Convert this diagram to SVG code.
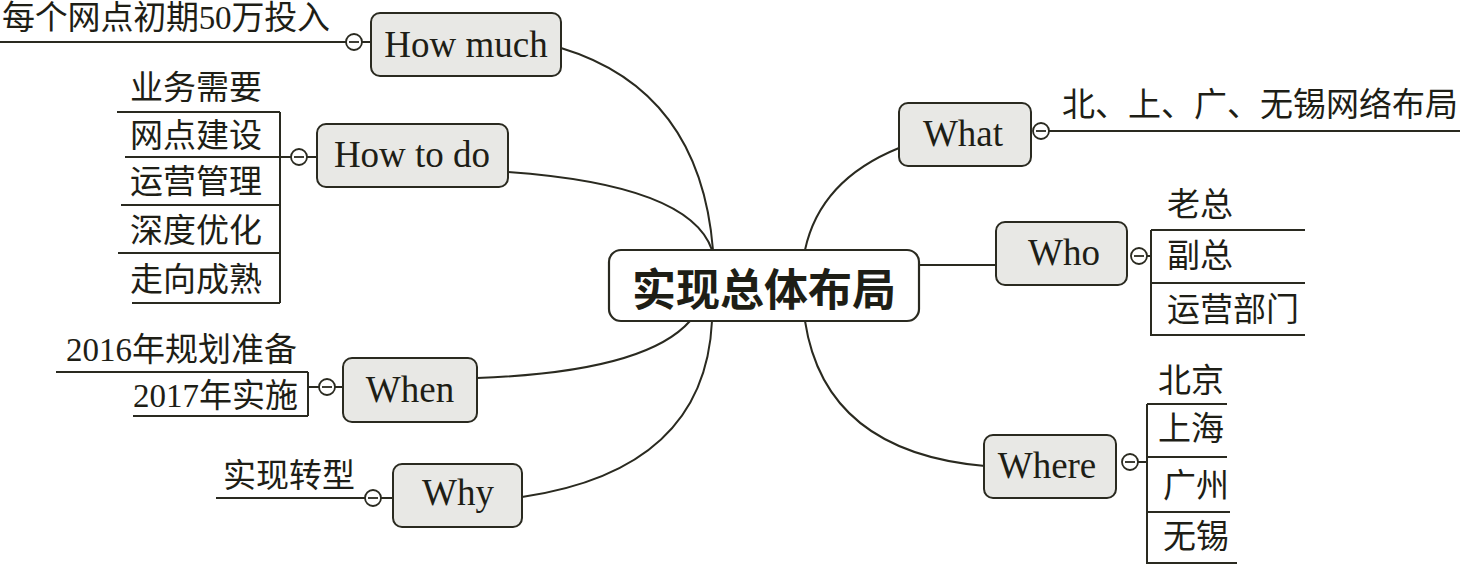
<svg xmlns="http://www.w3.org/2000/svg" width="1460" height="566" viewBox="0 0 1460 566">
<style>
.bg{fill:#ffffff}
.ln{fill:none;stroke:#2a2a20;stroke-width:2}
.box{fill:#e8e8e5;stroke:#2a2a20;stroke-width:2}
.root{fill:#ffffff;stroke:#2a2a20;stroke-width:2.2}
.en{font-family:"Liberation Serif","Times New Roman",serif;font-size:37px;fill:#1e1e16;text-anchor:middle}
.zh{font-family:"Liberation Serif","Noto Sans CJK SC",serif;font-size:33px;fill:#1e1e16;dominant-baseline:central}
.rt{font-family:"Noto Sans CJK SC","Noto Sans",sans-serif;font-size:44px;font-weight:bold;fill:#1e1e16;text-anchor:middle;dominant-baseline:central}
.tog{fill:#ffffff;stroke:#2a2a20;stroke-width:1.8}
</style>
<defs>
<g id="toggle"><circle class="tog" cx="0" cy="0" r="8"/><line x1="-5" y1="0" x2="5" y2="0" stroke="#2a2a20" stroke-width="1.8"/></g>
</defs>
<rect class="bg" x="0" y="0" width="1460" height="566"/>
<g id="connectors">
<path class="ln" d="M561,48 Q700,90 713,250"/>
<path class="ln" d="M508,172 Q690,185 712,250"/>
<path class="ln" d="M477,378 Q645,372 690,321"/>
<path class="ln" d="M522,497 Q705,470 712,321"/>
<path class="ln" d="M899,148 Q820,180 805,250"/>
<path class="ln" d="M919,265 L996,265"/>
<path class="ln" d="M985,466 Q825,452 805,321"/>
</g>
<g id="root">
<rect class="root" x="609" y="250" width="310" height="71" rx="12"/>
<text class="rt" x="764" y="287">实现总体布局</text>
</g>
<g id="howmuch">
<rect class="box" x="371" y="13" width="190" height="63" rx="9"/>
<text class="en" x="466" y="57">How much</text>
<line class="ln" x1="0" y1="42" x2="346" y2="42"/>
<line class="ln" x1="362" y1="42" x2="371" y2="42"/>
<use href="#toggle" x="354" y="42"/>
<text class="zh" x="2" y="18" textLength="328" lengthAdjust="spacing">每个网点初期50万投入</text>
</g>
<g id="howtodo">
<rect class="box" x="317" y="124" width="191" height="63" rx="9"/>
<text class="en" x="412" y="167">How to do</text>
<line class="ln" x1="307" y1="157" x2="317" y2="157"/>
<use href="#toggle" x="299" y="157"/>
<line class="ln" x1="280" y1="112" x2="280" y2="303"/>
<line class="ln" x1="117" y1="112" x2="280" y2="112"/>
<line class="ln" x1="125" y1="157" x2="291" y2="157"/>
<line class="ln" x1="121" y1="205" x2="280" y2="205"/>
<line class="ln" x1="118" y1="253" x2="280" y2="253"/>
<line class="ln" x1="132" y1="303" x2="280" y2="303"/>
<text class="zh" x="130" y="88">业务需要</text>
<text class="zh" x="130" y="136">网点建设</text>
<text class="zh" x="130" y="182">运营管理</text>
<text class="zh" x="130" y="231">深度优化</text>
<text class="zh" x="130" y="280">走向成熟</text>
</g>
<g id="when">
<rect class="box" x="343" y="358" width="134" height="64" rx="9"/>
<text class="en" x="410" y="402">When</text>
<line class="ln" x1="335" y1="387" x2="343" y2="387"/>
<use href="#toggle" x="327" y="387"/>
<line class="ln" x1="308" y1="387" x2="319" y2="387"/>
<line class="ln" x1="308" y1="372" x2="308" y2="416"/>
<line class="ln" x1="56" y1="372" x2="308" y2="372"/>
<line class="ln" x1="133" y1="416" x2="308" y2="416"/>
<text class="zh" x="66" y="350">2016年规划准备</text>
<text class="zh" x="133" y="396">2017年实施</text>
</g>
<g id="why">
<rect class="box" x="393" y="464" width="129" height="63" rx="9"/>
<text class="en" x="458" y="505">Why</text>
<line class="ln" x1="216" y1="498" x2="365" y2="498"/>
<line class="ln" x1="381" y1="498" x2="393" y2="498"/>
<use href="#toggle" x="373" y="498"/>
<text class="zh" x="223" y="476">实现转型</text>
</g>
<g id="what">
<rect class="box" x="899" y="103" width="132" height="63" rx="9"/>
<text class="en" x="963" y="146">What</text>
<line class="ln" x1="1049" y1="131" x2="1460" y2="131"/>
<use href="#toggle" x="1041" y="131"/>
<text class="zh" x="1062" y="105" textLength="396" lengthAdjust="spacing">北、上、广、无锡网络布局</text>
</g>
<g id="who">
<rect class="box" x="996" y="222" width="131" height="63" rx="9"/>
<text class="en" x="1064" y="265">Who</text>
<use href="#toggle" x="1139" y="256"/>
<line class="ln" x1="1147" y1="256" x2="1151" y2="256"/>
<line class="ln" x1="1151" y1="230" x2="1151" y2="336"/>
<line class="ln" x1="1151" y1="230" x2="1305" y2="230"/>
<line class="ln" x1="1151" y1="283" x2="1305" y2="283"/>
<line class="ln" x1="1151" y1="335" x2="1305" y2="335"/>
<text class="zh" x="1167" y="205">老总</text>
<text class="zh" x="1167" y="256">副总</text>
<text class="zh" x="1167" y="310">运营部门</text>
</g>
<g id="where">
<rect class="box" x="984" y="435" width="132" height="63" rx="9"/>
<text class="en" x="1047" y="478">Where</text>
<use href="#toggle" x="1130" y="462"/>
<line class="ln" x1="1138" y1="462" x2="1147" y2="462"/>
<line class="ln" x1="1147" y1="404" x2="1147" y2="564"/>
<line class="ln" x1="1147" y1="404" x2="1227" y2="404"/>
<line class="ln" x1="1147" y1="457" x2="1227" y2="457"/>
<line class="ln" x1="1147" y1="512" x2="1230" y2="512"/>
<line class="ln" x1="1147" y1="563" x2="1237" y2="563"/>
<text class="zh" x="1158" y="381">北京</text>
<text class="zh" x="1158" y="429">上海</text>
<text class="zh" x="1163" y="486">广州</text>
<text class="zh" x="1163" y="537">无锡</text>
</g>
</svg>
